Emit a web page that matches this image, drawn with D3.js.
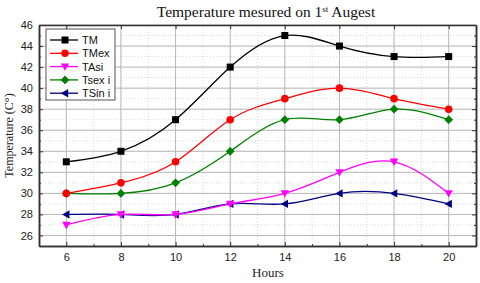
<!DOCTYPE html>
<html lang="en">
  <head>
    <meta charset="UTF-8" />
    <title>Temperature mesured on 1st Augest</title>
    <style>
      body {
        margin: 0;
        background: #fff;
      }
    </style>
  </head>
  <body>
    <div id="chart"></div>
    <script src="https://cdnjs.cloudflare.com/ajax/libs/d3/7.8.5/d3.min.js"></script>
    <script>
      // data
      var hours = [6, 8, 10, 12, 14, 16, 18, 20];
      var seriesNames = ["TM", "TMex", "TAsi", "Tsex i", "TSin i"];
      var tm = [33, 34, 37, 42, 45, 44, 43, 43];
      var tmex = [30, 31, 33, 37, 39, 40, 39, 38];
      var tasi = [27, 28, 28, 29, 30, 32, 33, 30];
      var tsexi = [30, 30, 31, 34, 37, 37, 38, 37];
      var tsini = [28, 28, 28, 29, 29, 30, 30, 29];
      var xTicks = [6, 8, 10, 12, 14, 16, 18, 20];
      var yTicks = [26, 28, 30, 32, 34, 36, 38, 40, 42, 44, 46];

      var colors = ["#000000", "#ff0000", "#ff00ff", "#008000", "#000080"];
      var symbols = ["square", "circle", "down", "diamond", "left"];
      var values = [tm, tmex, tasi, tsexi, tsini];

      var width = 480,
        height = 283;
      var margin = { top: 25, right: 4, bottom: 37, left: 39 };

      var svg = d3
        .select("#chart")
        .append("svg")
        .attr("width", width)
        .attr("height", height);

      var x = d3
        .scaleLinear()
        .domain([5, 21])
        .range([margin.left, width - margin.right]);
      var y = d3
        .scaleLinear()
        .domain([25, 46])
        .range([height - margin.bottom, margin.top]);

      var plot = svg.append("g");

      // minor grid (dotted)
      plot
        .selectAll(".vminor")
        .data(d3.range(5, 22))
        .enter()
        .append("line")
        .attr("x1", (d) => x(d))
        .attr("x2", (d) => x(d))
        .attr("y1", y(25))
        .attr("y2", y(46))
        .attr("stroke", "#d0d0d0")
        .attr("stroke-width", 0.8)
        .attr("stroke-dasharray", "1,2");
      plot
        .selectAll(".hminor")
        .data(d3.range(25, 47))
        .enter()
        .append("line")
        .attr("y1", (d) => y(d))
        .attr("y2", (d) => y(d))
        .attr("x1", x(5))
        .attr("x2", x(21))
        .attr("stroke", "#d0d0d0")
        .attr("stroke-width", 0.8)
        .attr("stroke-dasharray", "1,2");

      // major grid
      plot
        .selectAll(".vmajor")
        .data(xTicks)
        .enter()
        .append("line")
        .attr("x1", (d) => x(d))
        .attr("x2", (d) => x(d))
        .attr("y1", y(25))
        .attr("y2", y(46))
        .attr("stroke", "#b8b8b8")
        .attr("stroke-width", 1);
      plot
        .selectAll(".hmajor")
        .data(yTicks)
        .enter()
        .append("line")
        .attr("y1", (d) => y(d))
        .attr("y2", (d) => y(d))
        .attr("x1", x(5))
        .attr("x2", x(21))
        .attr("stroke", "#b8b8b8")
        .attr("stroke-width", 1);

      // axes with inward ticks
      var xMinor = d3.range(5, 22).filter((d) => d % 2 == 1);
      var yMinor = d3.range(25, 47).filter((d) => d % 2 == 1);

      svg
        .append("g")
        .attr("transform", "translate(0," + y(25) + ")")
        .call(d3.axisBottom(x).tickValues(xTicks).tickSizeInner(-4).tickSizeOuter(0).tickPadding(7));
      svg
        .append("g")
        .attr("transform", "translate(0," + y(25) + ")")
        .call(d3.axisBottom(x).tickValues(xMinor).tickSizeInner(-2).tickSizeOuter(0).tickFormat(""));
      svg
        .append("g")
        .attr("transform", "translate(0," + y(46) + ")")
        .call(d3.axisTop(x).tickValues(xTicks).tickSizeInner(-4).tickSizeOuter(0).tickFormat(""));
      svg
        .append("g")
        .attr("transform", "translate(" + x(5) + ",0)")
        .call(d3.axisLeft(y).tickValues(yTicks).tickSizeInner(-4).tickSizeOuter(0).tickPadding(6));
      svg
        .append("g")
        .attr("transform", "translate(" + x(5) + ",0)")
        .call(d3.axisLeft(y).tickValues(yMinor).tickSizeInner(-2).tickSizeOuter(0).tickFormat(""));
      svg
        .append("g")
        .attr("transform", "translate(" + x(21) + ",0)")
        .call(d3.axisRight(y).tickValues(yTicks).tickSizeInner(-4).tickSizeOuter(0).tickFormat(""));
      svg
        .append("g")
        .attr("transform", "translate(" + x(21) + ",0)")
        .call(d3.axisRight(y).tickValues(yMinor).tickSizeInner(-2).tickSizeOuter(0).tickFormat(""));

      svg
        .selectAll(".domain")
        .attr("stroke", "#333")
        .attr("stroke-width", 1.5);
      svg.selectAll(".tick line").attr("stroke", "#333");
      svg
        .selectAll(".tick text")
        .attr("font-family", "Liberation Sans, Arial, sans-serif")
        .attr("font-size", 11)
        .attr("fill", "#222");

      // markers
      function marker(g, type, color) {
        var s = 3.5;
        if (type == "square") {
          g.append("rect").attr("x", -s).attr("y", -s).attr("width", 2 * s).attr("height", 2 * s).attr("fill", color);
        } else if (type == "circle") {
          g.append("circle").attr("r", 3.8).attr("fill", color);
        } else if (type == "down") {
          g.append("path").attr("d", "M-4.2,-3.2L4.2,-3.2L0,4.2Z").attr("fill", color);
        } else if (type == "diamond") {
          g.append("path").attr("d", "M0,-4.4L4.4,0L0,4.4L-4.4,0Z").attr("fill", color);
        } else if (type == "left") {
          g.append("path").attr("d", "M-4.2,0L3.2,-4.2L3.2,4.2Z").attr("fill", color);
        }
      }

      var line = d3
        .line()
        .x((d, i) => x(hours[i]))
        .y((d) => y(d))
        .curve(d3.curveNatural);

      // draw back to front so TM stays on top
      for (var k = values.length - 1; k >= 0; k--) {
        plot
          .append("path")
          .datum(values[k])
          .attr("d", line)
          .attr("fill", "none")
          .attr("stroke", colors[k])
          .attr("stroke-width", 1.3);
        values[k].forEach(function (v, i) {
          var g = plot.append("g").attr("transform", "translate(" + x(hours[i]) + "," + y(v) + ")");
          marker(g, symbols[k], colors[k]);
        });
      }

      // legend
      var legend = svg.append("g").attr("transform", "translate(46,29)");
      legend
        .append("rect")
        .attr("width", 69)
        .attr("height", 71)
        .attr("fill", "#fff")
        .attr("stroke", "#555")
        .attr("stroke-width", 1);
      seriesNames.forEach(function (name, k) {
        var ly = 11 + k * 13.3;
        legend
          .append("line")
          .attr("x1", 4)
          .attr("x2", 32)
          .attr("y1", ly)
          .attr("y2", ly)
          .attr("stroke", colors[k])
          .attr("stroke-width", 1.3);
        marker(legend.append("g").attr("transform", "translate(19," + ly + ")"), symbols[k], colors[k]);
        legend
          .append("text")
          .attr("x", 36)
          .attr("y", ly + 4)
          .attr("font-family", "Liberation Sans, Arial, sans-serif")
          .attr("font-size", 11)
          .attr("fill", "#111")
          .text(name);
      });

      // title
      var title = svg
        .append("text")
        .attr("x", 266)
        .attr("y", 17)
        .attr("text-anchor", "middle")
        .attr("font-family", "Liberation Serif, Times New Roman, serif")
        .attr("font-size", 15.5)
        .attr("fill", "#111");
      title.append("tspan").text("Temperature mesured on 1");
      title.append("tspan").attr("font-size", 9).attr("dy", -5).text("st");
      title.append("tspan").attr("dy", 5).text(" Augest");

      // axis labels
      svg
        .append("text")
        .attr("x", 268)
        .attr("y", 277)
        .attr("text-anchor", "middle")
        .attr("font-family", "Liberation Serif, Times New Roman, serif")
        .attr("font-size", 13)
        .attr("fill", "#222")
        .text("Hours");
      svg
        .append("text")
        .attr("transform", "translate(13," + y(35.5) + ") rotate(-90)")
        .attr("text-anchor", "middle")
        .attr("font-family", "Liberation Serif, Times New Roman, serif")
        .attr("font-size", 12)
        .attr("fill", "#222")
        .text("Temperature (C°)");
    </script>
  </body>
</html>
